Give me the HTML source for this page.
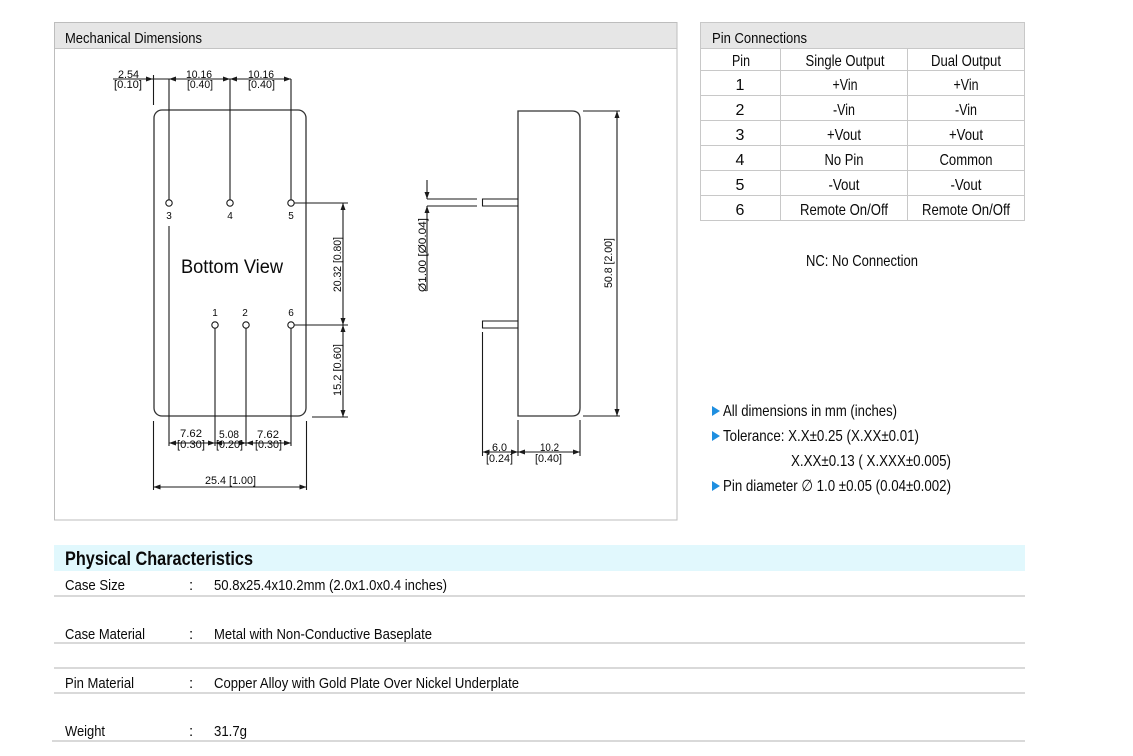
<!DOCTYPE html>
<html>
<head>
<meta charset="utf-8">
<style>
html,body{margin:0;padding:0;background:#fff;}
body{width:1133px;height:756px;overflow:hidden;}
svg{display:block;}
text{font-family:"Liberation Sans",Arial,sans-serif;fill:#0a0a0a;}
.d{font-size:11px;}
.t{font-size:15px;}
.u{font-size:16px;}
</style>
</head>
<body>
<svg width="1133" height="756" viewBox="0 0 1133 756" xmlns="http://www.w3.org/2000/svg">
<!-- Left panel -->
<rect x="54.5" y="22.5" width="622.5" height="497.5" fill="#fff" stroke="#bdbdbd" stroke-width="1"/>
<rect x="55" y="23" width="621.5" height="25" fill="#e6e6e6"/>
<line x1="55" y1="48.5" x2="677" y2="48.5" stroke="#c4c4c4"/>
<text x="65" y="43" class="t" textLength="137" lengthAdjust="spacingAndGlyphs">Mechanical Dimensions</text>

<!-- Pin table -->
<rect x="701" y="23" width="323" height="25" fill="#e6e6e6"/>
<rect x="700.5" y="22.5" width="324" height="198" fill="none" stroke="#c8c8c8"/>
<g stroke="#c8c8c8" stroke-width="1">
<line x1="700" y1="48.5" x2="1024" y2="48.5"/>
<line x1="700" y1="70.5" x2="1024" y2="70.5"/>
<line x1="700" y1="95.5" x2="1024" y2="95.5"/>
<line x1="700" y1="120.5" x2="1024" y2="120.5"/>
<line x1="700" y1="145.5" x2="1024" y2="145.5"/>
<line x1="700" y1="170.5" x2="1024" y2="170.5"/>
<line x1="700" y1="195.5" x2="1024" y2="195.5"/>
<line x1="780.5" y1="48" x2="780.5" y2="220"/>
<line x1="907.5" y1="48" x2="907.5" y2="220"/>
</g>
<text x="712" y="43" class="t" textLength="95" lengthAdjust="spacingAndGlyphs">Pin Connections</text>
<g class="u" text-anchor="middle">
<text x="741" y="66" textLength="18" lengthAdjust="spacingAndGlyphs">Pin</text>
<text x="845" y="66" textLength="79" lengthAdjust="spacingAndGlyphs">Single Output</text>
<text x="966" y="66" textLength="70" lengthAdjust="spacingAndGlyphs">Dual Output</text>
<text x="740" y="90">1</text>
<text x="740" y="115">2</text>
<text x="740" y="140">3</text>
<text x="740" y="165">4</text>
<text x="740" y="190">5</text>
<text x="740" y="215">6</text>
<text x="845" y="90" textLength="25" lengthAdjust="spacingAndGlyphs">+Vin</text>
<text x="844" y="115" textLength="22" lengthAdjust="spacingAndGlyphs">-Vin</text>
<text x="844" y="140" textLength="34" lengthAdjust="spacingAndGlyphs">+Vout</text>
<text x="844" y="165" textLength="39" lengthAdjust="spacingAndGlyphs">No Pin</text>
<text x="844" y="190" textLength="31" lengthAdjust="spacingAndGlyphs">-Vout</text>
<text x="844" y="215" textLength="88" lengthAdjust="spacingAndGlyphs">Remote On/Off</text>
<text x="966" y="90" textLength="25" lengthAdjust="spacingAndGlyphs">+Vin</text>
<text x="966" y="115" textLength="22" lengthAdjust="spacingAndGlyphs">-Vin</text>
<text x="966" y="140" textLength="34" lengthAdjust="spacingAndGlyphs">+Vout</text>
<text x="966" y="165" textLength="53" lengthAdjust="spacingAndGlyphs">Common</text>
<text x="966" y="190" textLength="31" lengthAdjust="spacingAndGlyphs">-Vout</text>
<text x="966" y="215" textLength="88" lengthAdjust="spacingAndGlyphs">Remote On/Off</text>
</g>

<!-- Notes -->
<text x="806" y="266" class="u" textLength="112" lengthAdjust="spacingAndGlyphs">NC: No Connection</text>
<g fill="#1f8fe0">
<polygon points="712,406 720,411 712,416"/>
<polygon points="712,431 720,436 712,441"/>
<polygon points="712,481 720,486 712,491"/>
</g>
<text x="723" y="416" class="u" textLength="174" lengthAdjust="spacingAndGlyphs">All dimensions in mm (inches)</text>
<text x="723" y="441" class="u" textLength="196" lengthAdjust="spacingAndGlyphs">Tolerance: X.X±0.25 (X.XX±0.01)</text>
<text x="791" y="466" class="u" textLength="160" lengthAdjust="spacingAndGlyphs">X.XX±0.13 ( X.XXX±0.005)</text>
<text x="723" y="491" class="u" textLength="228" lengthAdjust="spacingAndGlyphs">Pin diameter ∅ 1.0 ±0.05 (0.04±0.002)</text>

<!-- Bottom view drawing -->
<g fill="none" stroke="#333" stroke-width="1.3">
<rect x="154" y="110" width="152" height="306" rx="8" ry="8"/>
</g>
<g fill="none" stroke="#1a1a1a" stroke-width="1.1">
<line x1="113" y1="79" x2="291" y2="79"/>
<line x1="153.5" y1="75" x2="153.5" y2="105"/>
<line x1="169" y1="79" x2="169" y2="199.5"/>
<line x1="230" y1="79" x2="230" y2="199.5"/>
<line x1="291" y1="79" x2="291" y2="199.5"/>
<line x1="169" y1="226" x2="169" y2="446"/>
<line x1="294.5" y1="203" x2="348" y2="203"/>
<line x1="294.5" y1="325" x2="348" y2="325"/>
<line x1="312" y1="417" x2="348" y2="417"/>
<line x1="343" y1="203" x2="343" y2="417"/>
<line x1="215" y1="328.5" x2="215" y2="446"/>
<line x1="246" y1="328.5" x2="246" y2="446"/>
<line x1="291" y1="328.5" x2="291" y2="446"/>
<line x1="169" y1="443" x2="291" y2="443"/>
<line x1="153.5" y1="421" x2="153.5" y2="490"/>
<line x1="306.5" y1="421" x2="306.5" y2="490"/>
<line x1="153.5" y1="487" x2="306.5" y2="487"/>
</g>
<g fill="#fff" stroke="#1a1a1a" stroke-width="1.1">
<circle cx="169" cy="203" r="3.2"/>
<circle cx="230" cy="203" r="3.2"/>
<circle cx="291" cy="203" r="3.2"/>
<circle cx="215" cy="325" r="3.2"/>
<circle cx="246" cy="325" r="3.2"/>
<circle cx="291" cy="325" r="3.2"/>
</g>
<g fill="#1a1a1a">
<polygon points="153,79 146,76.5 146,81.5"/>
<polygon points="169,79 176,76.5 176,81.5"/>
<polygon points="230,79 223,76.5 223,81.5"/>
<polygon points="230,79 237,76.5 237,81.5"/>
<polygon points="291,79 284,76.5 284,81.5"/>
<polygon points="343,203 340.5,210 345.5,210"/>
<polygon points="343,325 340.5,318 345.5,318"/>
<polygon points="343,325 340.5,332 345.5,332"/>
<polygon points="343,417 340.5,410 345.5,410"/>
<polygon points="169,443 176,440.5 176,445.5"/>
<polygon points="215,443 208,440.5 208,445.5"/>
<polygon points="215,443 222,440.5 222,445.5"/>
<polygon points="246,443 239,440.5 239,445.5"/>
<polygon points="246,443 253,440.5 253,445.5"/>
<polygon points="291,443 284,440.5 284,445.5"/>
<polygon points="153.5,487 160.5,484.5 160.5,489.5"/>
<polygon points="306.5,487 299.5,484.5 299.5,489.5"/>
</g>
<g class="d" text-anchor="middle">
<text x="128.5" y="78" textLength="21" lengthAdjust="spacingAndGlyphs">2.54</text>
<text x="128" y="88" textLength="28" lengthAdjust="spacingAndGlyphs">[0.10]</text>
<text x="199" y="78" textLength="26" lengthAdjust="spacingAndGlyphs">10.16</text>
<text x="200" y="88" textLength="26" lengthAdjust="spacingAndGlyphs">[0.40]</text>
<text x="261" y="78" textLength="26" lengthAdjust="spacingAndGlyphs">10.16</text>
<text x="261.5" y="88" textLength="27" lengthAdjust="spacingAndGlyphs">[0.40]</text>
<text x="169" y="219" font-size="10">3</text>
<text x="230" y="219" font-size="10">4</text>
<text x="291" y="219" font-size="10">5</text>
<text x="215" y="316" font-size="10">1</text>
<text x="245" y="316" font-size="10">2</text>
<text x="291" y="316" font-size="10">6</text>
<text x="191" y="437" textLength="22" lengthAdjust="spacingAndGlyphs">7.62</text>
<text x="191" y="448" textLength="28" lengthAdjust="spacingAndGlyphs">[0.30]</text>
<text x="229" y="438" textLength="20" lengthAdjust="spacingAndGlyphs">5.08</text>
<text x="229.5" y="448" textLength="27" lengthAdjust="spacingAndGlyphs">[0.20]</text>
<text x="268" y="438" textLength="22" lengthAdjust="spacingAndGlyphs">7.62</text>
<text x="268.5" y="448" textLength="27" lengthAdjust="spacingAndGlyphs">[0.30]</text>
<text x="230.5" y="484" textLength="51" lengthAdjust="spacingAndGlyphs">25.4 [1.00]</text>
<text transform="translate(341,264.5) rotate(-90)" textLength="55" lengthAdjust="spacingAndGlyphs">20.32 [0.80]</text>
<text transform="translate(341,370) rotate(-90)" textLength="52" lengthAdjust="spacingAndGlyphs">15.2 [0.60]</text>
</g>
<text x="181" y="273" font-size="19" textLength="102" lengthAdjust="spacingAndGlyphs">Bottom View</text>

<!-- Side view -->
<g fill="none" stroke="#333" stroke-width="1.3">
<path d="M518,111 H572 Q580,111 580,119 V408 Q580,416 572,416 H518 Z"/>
</g>
<g fill="none" stroke="#1a1a1a" stroke-width="1.1">
<line x1="427" y1="199" x2="477" y2="199"/>
<line x1="427" y1="206" x2="477" y2="206"/>
<path d="M518,199 H482.5 V206 H518"/>
<path d="M518,321 H482.5 V328 H518"/>
<line x1="427" y1="180" x2="427" y2="199"/>
<line x1="427" y1="206" x2="427" y2="291"/>
<line x1="482.5" y1="332" x2="482.5" y2="456"/>
<line x1="518" y1="420" x2="518" y2="456"/>
<line x1="580" y1="420" x2="580" y2="456"/>
<line x1="482.5" y1="452" x2="580" y2="452"/>
<line x1="583" y1="111" x2="620" y2="111"/>
<line x1="583" y1="416" x2="620" y2="416"/>
<line x1="617" y1="111" x2="617" y2="416"/>
</g>
<g fill="#1a1a1a">
<polygon points="427,199 424.5,192 429.5,192"/>
<polygon points="427,206 424.5,213 429.5,213"/>
<polygon points="482.5,452 489.5,449.5 489.5,454.5"/>
<polygon points="518,452 511,449.5 511,454.5"/>
<polygon points="518,452 525,449.5 525,454.5"/>
<polygon points="580,452 573,449.5 573,454.5"/>
<polygon points="617,111 614.5,118 619.5,118"/>
<polygon points="617,416 614.5,409 619.5,409"/>
</g>
<g class="d" text-anchor="middle">
<text x="499.5" y="451" textLength="15" lengthAdjust="spacingAndGlyphs">6.0</text>
<text x="499.5" y="462" textLength="27" lengthAdjust="spacingAndGlyphs">[0.24]</text>
<text x="549.5" y="451" textLength="19" lengthAdjust="spacingAndGlyphs">10.2</text>
<text x="548.5" y="462" textLength="27" lengthAdjust="spacingAndGlyphs">[0.40]</text>
<text transform="translate(426,255) rotate(-90)" textLength="74" lengthAdjust="spacingAndGlyphs">Ø1.00 [Ø0.04]</text>
<text transform="translate(612,263) rotate(-90)" textLength="50" lengthAdjust="spacingAndGlyphs">50.8 [2.00]</text>
</g>

<!-- Physical characteristics -->
<rect x="54" y="545" width="971" height="26" fill="#e1f8fd"/>
<text x="65" y="565" font-size="19" font-weight="bold" textLength="188" lengthAdjust="spacingAndGlyphs">Physical Characteristics</text>
<g stroke="#c2c2c2" stroke-width="1.2">
<line x1="54" y1="596" x2="1025" y2="596"/>
<line x1="54" y1="643" x2="1025" y2="643"/>
<line x1="54" y1="668" x2="1025" y2="668"/>
<line x1="54" y1="693" x2="1025" y2="693"/>
<line x1="52" y1="741" x2="1025" y2="741"/>
</g>
<g class="t">
<text x="65" y="590" textLength="60" lengthAdjust="spacingAndGlyphs">Case Size</text>
<text x="189" y="590">:</text>
<text x="214" y="590" textLength="233" lengthAdjust="spacingAndGlyphs">50.8x25.4x10.2mm (2.0x1.0x0.4 inches)</text>
<text x="65" y="639" textLength="80" lengthAdjust="spacingAndGlyphs">Case Material</text>
<text x="189" y="639">:</text>
<text x="214" y="639" textLength="218" lengthAdjust="spacingAndGlyphs">Metal with Non-Conductive Baseplate</text>
<text x="65" y="688" textLength="69" lengthAdjust="spacingAndGlyphs">Pin Material</text>
<text x="189" y="688">:</text>
<text x="214" y="688" textLength="305" lengthAdjust="spacingAndGlyphs">Copper Alloy with Gold Plate Over Nickel Underplate</text>
<text x="65" y="736" textLength="40" lengthAdjust="spacingAndGlyphs">Weight</text>
<text x="189" y="736">:</text>
<text x="214" y="736" textLength="33" lengthAdjust="spacingAndGlyphs">31.7g</text>
</g>
</svg>
</body>
</html>
